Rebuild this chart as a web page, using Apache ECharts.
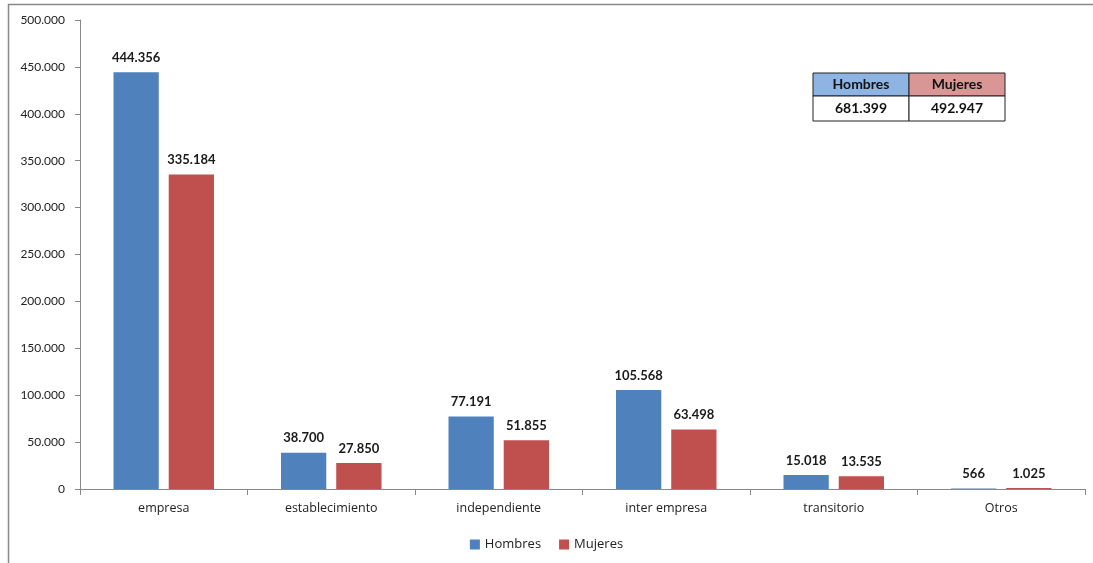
<!DOCTYPE html>
<html><head><meta charset="utf-8">
<script src="https://cdn.jsdelivr.net/npm/echarts@6/dist/echarts.min.js"></script>
<style>html,body{margin:0;padding:0;background:#fff}#c{width:1093px;height:563px}</style>
</head><body><div id="c"></div>
<script>
const categories = ['empresa','establecimiento','independiente','inter empresa','transitorio','Otros'];
const hombres = [444356, 38700, 77191, 105568, 15018, 566];
const mujeres = [335184, 27850, 51855, 63498, 13535, 1025];
const seriesNames = ['Hombres','Mujeres'];
const totals = ['681.399','492.947'];

const fmt = v => String(Math.round(v)).replace(/\B(?=(\d{3})+(?!\d))/g, '.');
const font = 'Lato, "Open Sans", sans-serif';
const font2 = '"Open Sans", Lato, sans-serif';
const chart = echarts.init(document.getElementById('c'));
const lbl = {show:true, position:'top', distance:8, color:'#1a1a1a', fontWeight:'bold', fontSize:13, fontFamily:font, formatter:p=>fmt(p.value)};
const tx = 813, ty = 73, cw = 96, rh = 23;
chart.setOption({
  animation:false,
  grid:{left:80, right:8, top:20, bottom:74, containLabel:false},
  legend:{bottom:7, left:'center', itemWidth:10, itemHeight:10, itemGap:18, icon:'rect',
    textStyle:{fontSize:13, color:'#222', fontFamily:font2}, data:seriesNames},
  xAxis:{type:'category', data:categories,
    axisLine:{lineStyle:{color:'#888'}}, axisTick:{show:true, length:6, lineStyle:{color:'#888'}},
    axisLabel:{color:'#222', fontSize:12.5, fontFamily:font2, margin:13}},
  yAxis:{type:'value', min:0, max:500000, interval:50000,
    axisLine:{show:true, lineStyle:{color:'#888'}}, axisTick:{show:true, length:5, lineStyle:{color:'#888'}},
    splitLine:{show:false},
    axisLabel:{color:'#222', fontSize:12, fontFamily:font, margin:15, formatter:fmt}},
  series:[
    {name:seriesNames[0], type:'bar', data:hombres, itemStyle:{color:'#4F81BD'}, barGap:'22%', barCategoryGap:'40%', label:lbl},
    {name:seriesNames[1], type:'bar', data:mujeres, itemStyle:{color:'#C0504D'}, label:lbl}
  ],
  graphic:[
    {type:'line', shape:{x1:8,y1:4.5,x2:1093,y2:4.5}, style:{stroke:'#888', lineWidth:1.5}},
    {type:'line', shape:{x1:8.5,y1:4,x2:8.5,y2:563}, style:{stroke:'#888', lineWidth:1.5}},
    {type:'rect', shape:{x:tx,y:ty,width:cw,height:rh}, style:{fill:'#8DB4E2', stroke:'#222', lineWidth:1}},
    {type:'rect', shape:{x:tx+cw,y:ty,width:cw,height:rh}, style:{fill:'#DA9694', stroke:'#222', lineWidth:1}},
    {type:'rect', shape:{x:tx,y:ty+rh,width:cw,height:rh+2}, style:{fill:'#fff', stroke:'#222', lineWidth:1}},
    {type:'rect', shape:{x:tx+cw,y:ty+rh,width:cw,height:rh+2}, style:{fill:'#fff', stroke:'#222', lineWidth:1}},
    {type:'text', x:tx+cw/2, y:ty+rh/2, style:{text:seriesNames[0], align:'center', verticalAlign:'middle', font:'bold 14px '+font, fill:'#111'}},
    {type:'text', x:tx+cw*1.5, y:ty+rh/2, style:{text:seriesNames[1], align:'center', verticalAlign:'middle', font:'bold 14px '+font, fill:'#111'}},
    {type:'text', x:tx+cw/2, y:ty+rh+rh/2+1, style:{text:totals[0], align:'center', verticalAlign:'middle', font:'bold 14px '+font, fill:'#111'}},
    {type:'text', x:tx+cw*1.5, y:ty+rh+rh/2+1, style:{text:totals[1], align:'center', verticalAlign:'middle', font:'bold 14px '+font, fill:'#111'}}
  ]
});
</script></body></html>
